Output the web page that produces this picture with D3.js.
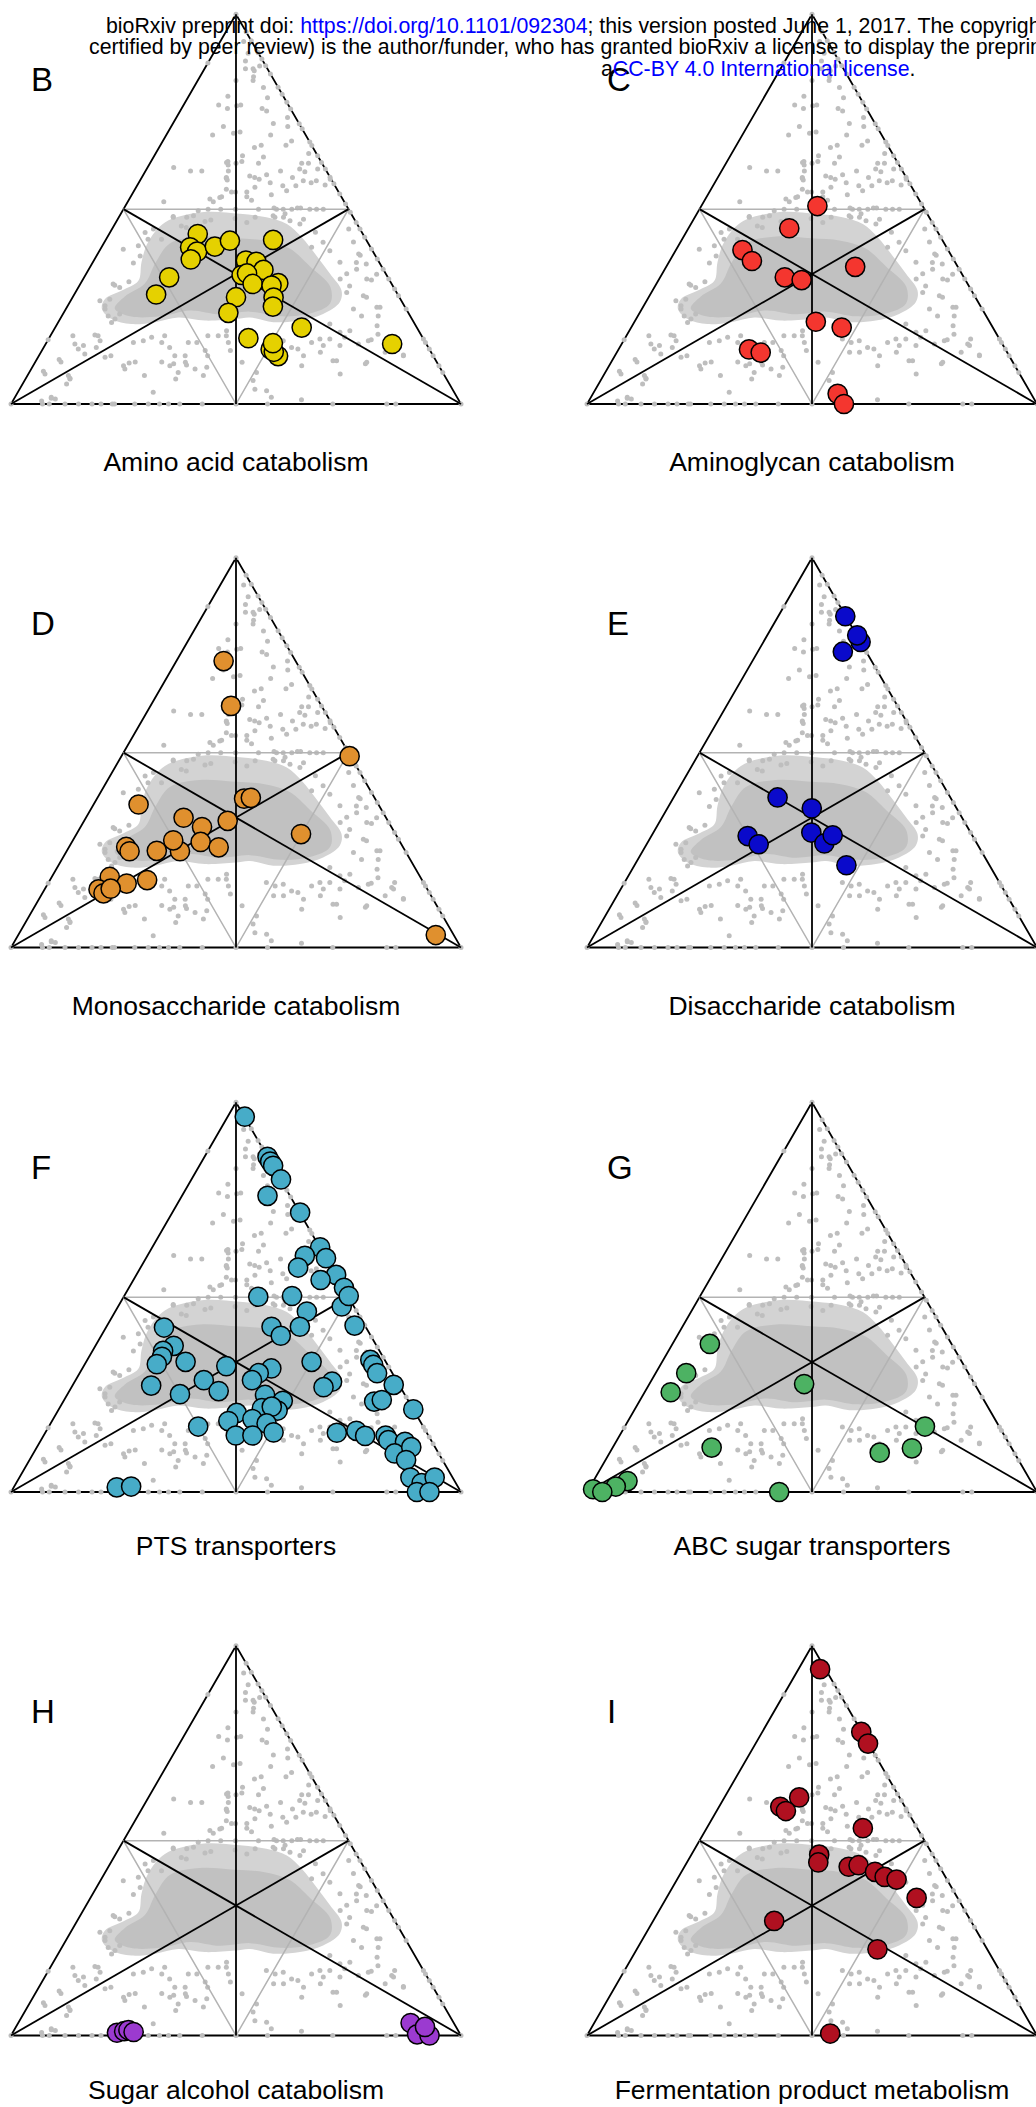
<!DOCTYPE html>
<html>
<head>
<meta charset="utf-8">
<script src="https://cdn.jsdelivr.net/npm/d3@7"></script>
<style>
body { margin: 0; background: #fff; }
svg { display: block; }
text { font-family: "Liberation Sans", Arial, Helvetica, sans-serif; }
</style>
</head>
<body>
<script>
// page size and triangle geometry
var width = 1036, height = 2107;
var triW = 450, triH = triW * Math.sqrt(3) / 2;
var colLeft = [11, 587], rowBase = [404, 947.5, 1492, 2035.5];
var titleY = [471, 1015, 1555, 2099];

var letters = ["B", "C", "D", "E", "F", "G", "H", "I"];
var titles = ["Amino acid catabolism", "Aminoglycan catabolism", "Monosaccharide catabolism",
  "Disaccharide catabolism", "PTS transporters", "ABC sugar transporters",
  "Sugar alcohol catabolism", "Fermentation product metabolism"];
var colors = ["#e5d100", "#f4362f", "#e0902e", "#0a0acb", "#47acc8", "#4db263", "#9b3ad0", "#b01020"];

// highlighted genes, [top %, right %] (left % = 100 - top - right)
var aminoAcid = [[43.6,19.7],[40.2,19.7],[39.1,21.8],[37.1,21.4],[40.4,25.1],[41.9,27.7],[42.1,37.2],
  [32.5,18.9],[28.1,18.2],[36.8,33.8],[36.5,36.3],[34.4,38.9],[33.1,34.7],[33.5,35.7],[30.8,38.3],
  [31,43.9],[30.4,42.7],[27.3,44.7],[25,45.7],[27.4,36.3],[23.4,36.6],[19.6,54.8],[16.9,44.3],
  [14,50.7],[12.3,53.2],[13.4,51.7],[15.6,50.4],[15.4,77]];
var aminoglycan = [[50.8,25.8],[45.1,22.4],[39.5,14.8],[36.7,18.3],[32.5,27.7],[31.8,31.8],[35.2,42],
  [21.1,40.3],[19.6,46.8],[14,29],[13.2,32],[2.6,54.4],[0,57.1]];
var monosaccharide = [[73.5,10.5],[62,17.9],[49.1,50.7],[38.2,32.7],[38.4,34.1],[36.7,10],[33.3,21.7],
  [32.5,31.9],[30.9,27],[29.1,49.9],[27.1,28.6],[25.7,33.3],[24.7,25.2],[27.5,22.3],[24.8,20],
  [25.8,12.7],[24.7,14],[18.1,12.9],[16.4,17.5],[17.3,21.6],[14.9,12],[13.9,13.6],[15.1,14.6],[3.2,92.8]];
var disaccharide = [[85,14.9],[78.4,21.6],[80.1,20],[75.9,18.9],[38.5,23.1],[35.7,32.1],[29.5,35.1],
  [26.7,39.4],[28.8,40.2],[28.6,21.4],[26.5,24.9],[21.1,47.1]];
var pts = [[96.3,3.8],[86,14],[84.8,15.2],[83.7,16.4],[80.2,19.9],[76,19],[71.7,28.4],[62.8,37.3],
  [60.6,35],[60,40],[57.6,35],[55.7,44.4],[54.4,41.6],[52.4,47.8],[47.6,49.7],[50.3,49.9],[50.1,29.9],
  [50.3,37.3],[46.3,42.6],[42.7,55],[42.4,36.7],[40.1,39.9],[42.4,43],[42.2,12.9],[37.5,17.4],
  [36.2,15.7],[34.7,16.2],[32.8,16],[33.4,22.1],[32.3,31.7],[33.4,50.1],[33.9,62.9],[32.6,64.2],
  [30.5,66.1],[31.7,42],[30.5,39.8],[28.7,39.2],[28.7,28.5],[27.3,17.5],[25.9,33.2],[25.1,25],
  [28.3,57.2],[26.9,56],[27.5,71.3],[23.2,69.1],[23.6,70.6],[21.2,78.8],[24.9,44],[23.4,48.7],
  [21.5,45],[20.9,48.8],[21.9,47],[20.3,40],[18.2,39.2],[18.7,44.3],[17.6,48],[16.8,33.2],
  [14.5,42.7],[14.5,46.4],[15.3,50.7],[15.2,64.8],[15.7,68.9],[14.4,71.5],[14.5,76],[13.3,77.2],
  [12.9,81.1],[9.9,80.3],[11.5,83.2],[8.2,83.7],[3.7,86.9],[2.3,90.1],[3.7,92.3],[0,90.2],[0,93],
  [1.2,22.9],[1.4,26]];
var abcSugar = [[38,8.3],[30.5,6.8],[25.6,5.8],[27.7,34.4],[11.4,22],[16.8,66.7],[11.2,66.6],
  [10.1,60],[2.8,7.6],[1.4,5.7],[0.7,1],[0,3.4],[0,42.7]];
var sugarAlcohol = [[0.7,23.2],[1.1,24.6],[1.4,25.4],[0.9,26.8],[3.2,87.2],[0.3,90.1],[0,93],[2.2,90.9]];
var fermentation = [[94,4.8],[77.9,22],[74.9,25],[61.1,16.6],[58.7,13.6],[57.6,15.4],[53.2,34.7],
  [46.4,28.4],[44.4,29.2],[43.3,36.5],[43.7,38.5],[42,43],[40.7,45.8],[40,48.8],[35.3,55.6],
  [29.4,26.9],[22.1,53.5],[0.5,53.8]];
var panelData = [aminoAcid, aminoglycan, monosaccharide, disaccharide, pts, abcSugar, sugarAlcohol, fermentation];

// background genome (same in every panel)
var bgCorners = [[100,0],[0,0],[0,100]];
var bgLeftEdge = [87.5, 16.5];   // top %
var bgRightEdge = [95.5,93.2,90.2,88.5,86.8,84.7,81.3,79.5,77.4,75.7,71.9,70.6,67.2,66.3,63.7,62,60.3,
  58.2,56.5,53.9,51.3,49.2,46.6,44.9,42.8,39.8,37.2,34.6,32.1,29.5,27.8,24.4,16.7,15.8,14.1,12.4,9.8,8.1];
var bgBase = [7,8.5,12,15,18,20,22.5,23,27.5,30.5,33,35,37.5,42.5,50,57,71.5,83.5,85.5];   // right %
var bgInterior = [[93,5.2],[90,7.7],[88,8.1],[86,9.1],[86,10.8],[85.5,11.3],[84,11.9],[83,12.3],[86.7,11.9],
  [83,8.5],[79,8.7],[76.7,7.8],[75.8,10.2],[76.7,12.7],[81.2,15.5],[78.6,17.7],[75.8,17.9],[75.2,19.2],
  [73.5,24.7],[72,22.3],[71.2,25.9],[71.2,11.6],[69.5,14.7],[69.8,16],[69,10.3],[69,23.2],[66.4,27.9],
  [67.5,28.6],[65.8,21.2],[66.4,22.4],[63.4,24.4],[61.8,24.1],[63.7,19.6],[62.2,20.2],[62.2,17.1],
  [61.3,17.6],[61.8,19.1],[60.7,5.8],[59.8,10],[59.8,12.5],[59.8,30],[61.8,33.7],[61.8,35.2],[60.3,34],
  [59.6,35.5],[60.3,38],[64.3,34],[58.5,23.8],[58.1,25.1],[57.7,26.3],[58.8,27.4],[57.9,18.9],[56.8,29.2],
  [56,32.4],[54.7,33.9],[58.1,33.5],[56,35.3],[57.3,36.3],[56.8,38.3],[57.3,39.2],[56.2,41.7],[57.7,42.1],
  [55.1,20.3],[54.4,21.8],[54.4,22.7],[54.4,25.2],[55.6,26.4],[53.7,31],[52.3,27.3],[53.2,25.8],[53.2,20.2],
  [51.9,19],[51.9,8],[48.1,12],[47.9,15.1],[48.3,16.4],[49.6,16.8],[50,18.8],[46.8,19.7],[47.2,20.8],
  [50,21.6],[50,24.9],[50,30],[50.3,33.3],[50,34],[50,35.5],[50,37.4],[50.3,38.5],[50.3,39.2],[50,41.4],
  [50,42.9],[50,44.4],[47.9,34.7],[47.9,36.6],[47,38.5],[47.4,41.3],[47.6,26],[47.9,30.3],[46.6,29.1],
  [62,16.9],[59.8,18.4],[58.1,18.8],[57.5,19.3],[76.5,11.9],[52.6,17.9],[53,19.9],[44,7.8],[42.3,9.3],
  [44.9,9.2],[47.9,12.1],[45.7,15],[45.3,16.3],[48.3,34.1],[48.8,36.5],[46.2,41.1],[44.1,45.6],[41.5,48.6],
  [39.3,51.2],[40.2,46.7],[36.4,54.9],[33.4,57.9],[42.3,12.3],[40.6,8],
  [39.7,5.1],[36.2,9.1],[38,9.7],[31.4,10.5],[30.5,7.8],[29.9,9.2],[26.5,6.5],[25.2,8.3],[26.9,8.5],
  [24.4,8.7],[22.6,10.3],[20.9,11.9],[21.8,12.2],[23.1,12.6],[17.5,5],[15.4,6.5],[14.1,7.9],[15,8.6],
  [12.8,10],[17.7,9.8],[16.2,11.7],[11.4,5],[10.8,5.7],[8.4,3],[7.7,3.7],[5.1,9.8],[6.6,9.8],[0.8,6.4],
  [1.5,8.2],[1.3,9.2],[12,14.9],[12.4,16],[9.8,20.1],[10.5,21],[9,20.8],[10.8,22.2],[15.8,19.3],[7.3,26],
  [3,30.1],[10.8,28.1],[9.8,30.4],[6.4,33.4],[8.1,33.1],[10.7,33.4],[10,34],[9,36.4],[16.2,21.3],
  [17.1,22.7],[15.8,25.6],[17.5,25.4],[14.5,28],[15.8,31.5],[15.8,33.4],[17.5,35],[17.5,37.3],[12.4,37.5],
  [17.5,39.1],[18.8,38.5],[30.8,7.3],[17.5,10.6],[14.5,11.7],[7.3,9.1],[6.4,9.9],[1.7,8.1],[10.3,31],
  [12.4,30.2],[12.4,32.5],[13.7,36.3],[9.4,38.8],[7.3,39.1],[15.8,40.4],[13.7,41.9],[6,50.8],[8.1,50.5],
  [44.9,52.6],[41.6,55.3],[38.2,58.5],[35.9,61],[34.6,59.5],[32.1,63],[31.8,64.2],[33.3,64.6],[30.3,60.1],
  [32.1,57.1],[28.6,60.3],[27.8,64.4],[27.4,65.3],[24.8,68.9],[24.8,69.6],[24.4,63.9],[22.6,66.6],
  [20.1,71.3],[17.9,72.6],[16.2,71.3],[16.5,71.8],[15.4,76.9],[16.7,76.9],[13.3,76.5],[12.6,80.9],
  [20.5,60.6],[18.4,63.9],[17.1,65.6],[18.8,65.9],[16.7,62.5],[15,65.6],[15.4,69.5],[15.8,58.9],
  [16.7,60.3],[15,61.9],[13.3,62.1],[11.1,66],[11.1,66.8],[7.7,69.3],[10.3,73.6],[9.8,59.7],[12.4,58.8],
  [14.1,56.7],[13.3,53.9],[13.3,51.7],[14.5,55.1],[16.7,48.4],[15.8,50.8],[16.2,52.4],[10.7,46],[3.8,52.3],
  [3.4,55.1],[1.7,57],[1.1,64],[22.6,70.3],[38.5,58],[36.3,58.6],[10.7,73.7],[15,77.5],[12.4,81]];
// outlines of the dense central cloud, [top %, right %]: outer halo and inner core
var bgHalo = [[46.6,10.9],[41.5,9.7],[36.4,10.8],[31.6,12.5],[29.1,10.1],[26.9,7.4],[24.4,8],[21.8,11.5],
  [20.5,16.5],[21,21.5],[22.2,26.1],[21.4,32.4],[21.8,38.9],[22.2,42],[21,47.8],[21.4,53.5],[23.1,57.8],
  [26.1,60],[29.1,58.9],[33.4,54.2],[38.1,48.8],[42.8,43.2],[46.2,38.2],[47.9,32.8],[48.8,26.5],[49.2,17.8]];
var bgCore = [[41.2,14.7],[43,20.5],[42.5,28.6],[41.9,35.4],[39.9,42],[35.3,48.8],[30.2,55.8],[25.8,58],
  [23.2,54.8],[22.5,48.6],[23.7,41.2],[23,34.9],[24,27.8],[22.5,21.9],[22.5,15.2],[24.5,10.8],[27.6,11.5],
  [30.9,14.3],[36.1,14]];

var background = bgCorners
  .concat(bgLeftEdge.map(function(t) { return [t, 0]; }))
  .concat(bgRightEdge.map(function(t) { return [t, 100 - t]; }))
  .concat(bgBase.map(function(r) { return [0, r]; }))
  .concat(bgInterior);

var svg = d3.select("body").append("svg")
  .attr("width", width)
  .attr("height", height);
svg.append("rect").attr("width", width).attr("height", height).attr("fill", "#fff");

letters.forEach(function(letter, i) {
  var col = i % 2, row = Math.floor(i / 2);
  var x0 = colLeft[col], base = rowBase[row];
  // u = right + top/2 across the base, v = top upwards
  var x = d3.scaleLinear().domain([0, 100]).range([x0, x0 + triW]);
  var y = d3.scaleLinear().domain([0, 100]).range([base, base - triH]);
  var px = function(d) { return x(d[1] + d[0] / 2); };
  var py = function(d) { return y(d[0]); };
  var line = d3.line().x(px).y(py);
  var blob = d3.line().x(px).y(py).curve(d3.curveCatmullRomClosed);

  var g = svg.append("g");

  // outer triangle
  g.append("path")
    .attr("d", line(bgCorners) + "Z")
    .attr("fill", "none").attr("stroke", "#000").attr("stroke-width", 1.8);

  // dense cloud + background points
  g.append("path").attr("d", blob(bgHalo)).attr("fill", "#d3d3d3");
  g.append("path").attr("d", blob(bgCore)).attr("fill", "#c1c1c1");
  g.selectAll(".bg")
    .data(background)
    .enter().append("circle")
    .attr("cx", px).attr("cy", py)
    .attr("r", 2.5)
    .attr("fill", "#bebebe");

  // medial triangle (gray) and medians (black)
  var mids = [[50, 0], [50, 50], [0, 50]];
  g.append("path")
    .attr("d", line(mids) + "Z")
    .attr("fill", "none").attr("stroke", "#b3b3b3").attr("stroke-width", 1.5);
  [[[100, 0], [0, 50]], [[0, 0], [50, 50]], [[0, 100], [50, 0]]].forEach(function(seg) {
    g.append("path")
      .attr("d", line(seg))
      .attr("fill", "none").attr("stroke", "#000").attr("stroke-width", 1.8);
  });

  // highlighted genes
  g.selectAll(".dot")
    .data(panelData[i])
    .enter().append("circle")
    .attr("cx", px).attr("cy", py)
    .attr("r", 9.6)
    .attr("fill", colors[i])
    .attr("stroke", "#000").attr("stroke-width", 1.5);

  g.append("text")
    .attr("x", x0 + 20).attr("y", base - triH + 77)
    .attr("font-size", 33)
    .text(letter);
  g.append("text")
    .attr("x", x(50)).attr("y", titleY[row])
    .attr("text-anchor", "middle")
    .attr("font-size", 26.5)
    .text(titles[i]);
});

// preprint header
var head = svg.append("g").attr("font-size", 21.3);
head.append("text").attr("x", 106).attr("y", 33)
  .call(function(t) {
    t.append("tspan").text("bioRxiv preprint doi: ");
    t.append("tspan").attr("fill", "#0000ff").text("https://doi.org/10.1101/092304");
    t.append("tspan").text("; this version posted June 1, 2017. The copyright holder for this preprint (which was not");
  });
head.append("text").attr("x", 89).attr("y", 54)
  .text("certified by peer review) is the author/funder, who has granted bioRxiv a license to display the preprint in perpetuity. It is made available under");
head.append("text").attr("x", 601).attr("y", 76)
  .call(function(t) {
    t.append("tspan").text("a");
    t.append("tspan").attr("fill", "#0000ff").text("CC-BY 4.0 International license");
    t.append("tspan").text(".");
  });
</script>
</body>
</html>
